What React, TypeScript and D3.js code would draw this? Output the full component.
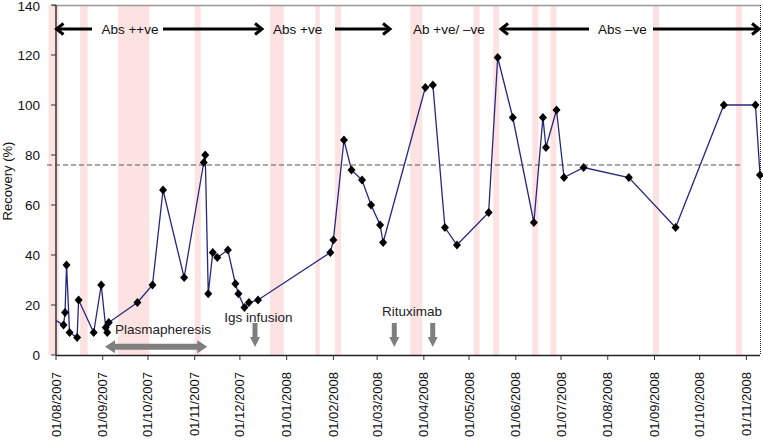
import React from "react";
import * as d3 from "d3";

// ---- data ----
const dates = [
  "2007-07-27", "2007-08-06", "2007-08-07", "2007-08-08", "2007-08-10", "2007-08-15", "2007-08-16",
  "2007-08-26", "2007-08-31", "2007-09-03", "2007-09-04", "2007-09-05", "2007-09-24", "2007-10-04",
  "2007-10-11", "2007-10-25", "2007-11-07", "2007-11-08", "2007-11-10", "2007-11-13", "2007-11-16",
  "2007-11-23", "2007-11-28", "2007-11-30", "2007-12-04", "2007-12-07", "2007-12-13", "2008-01-30",
  "2008-02-01", "2008-02-08", "2008-02-13", "2008-02-20", "2008-02-26", "2008-03-03", "2008-03-05",
  "2008-04-02", "2008-04-07", "2008-04-15", "2008-04-23", "2008-05-14", "2008-05-20", "2008-05-30",
  "2008-06-13", "2008-06-19", "2008-06-21", "2008-06-28", "2008-07-03", "2008-07-16", "2008-08-15",
  "2008-09-15", "2008-10-17", "2008-11-07", "2008-11-10",
];
const values = [
  15.5, 12, 17, 36, 9, 7, 22,
  9, 28, 11, 9, 13, 21, 28,
  66, 31, 77, 80, 24.5, 41, 39,
  42, 28.5, 24.5, 19, 21, 22, 41,
  46, 86, 74, 70, 60, 52, 45,
  107, 108, 51, 44, 57, 119, 95,
  53, 95, 83, 98, 71, 75, 71,
  51, 100, 100, 72,
];
const bandStarts = [
  "2007-07-27", "2007-08-17", "2007-09-11", "2007-11-01", "2007-12-21", "2008-01-20", "2008-02-02",
  "2008-03-23", "2008-05-04", "2008-05-17", "2008-06-12", "2008-06-24", "2008-08-31", "2008-10-25",
];
const bandEnds = [
  "2007-08-03", "2007-08-22", "2007-10-02", "2007-11-05", "2007-12-30", "2008-01-23", "2008-02-06",
  "2008-03-31", "2008-05-08", "2008-05-21", "2008-06-16", "2008-06-28", "2008-09-04", "2008-10-29",
];
const yTicks = [0, 20, 40, 60, 80, 100, 120, 140];
const referenceValue = 76;
const domainStart = "2007-08-01";
const domainEnd = "2008-11-10";
const periodLabels = ["Abs ++ve", "Abs +ve", "Ab +ve/ \u2013ve", "Abs \u2013ve"];
const treatmentLabels = ["Plasmapheresis", "Igs infusion", "Rituximab"];

const W = 763;
const H = 440;
const FONT = "'Liberation Sans', Arial, Helvetica, sans-serif";

export default function App() {
  const parse = d3.utcParse("%Y-%m-%d");
  const x = d3.scaleUtc().domain([parse(domainStart)!, parse(domainEnd)!]).range([56, 760]);
  const y = d3.scaleLinear().domain([0, 140]).range([355, 5]);
  const pts = dates.map((d, i) => ({ d: parse(d)!, v: values[i] }));
  const line = d3
    .line<{ d: Date; v: number }>()
    .x((p) => x(p.d))
    .y((p) => y(p.v));
  const monthTicks = d3.utcMonth.range(parse("2007-08-01")!, parse("2008-11-02")!);
  const fmt = d3.utcFormat("%d/%m/%Y");
  const diamond = "M0,-4.6L4,0L0,4.6L-4,0Z";

  const yTop = 29;
  const arrowL = (tip: number) => `M${tip + 7},${yTop - 5.5}L${tip},${yTop}L${tip + 7},${yTop + 5.5}`;
  const arrowR = (tip: number) => `M${tip - 7},${yTop - 5.5}L${tip},${yTop}L${tip - 7},${yTop + 5.5}`;
  const downArrow = (cx: number) =>
    `M${cx - 2.5},323L${cx + 2.5},323L${cx + 2.5},337L${cx + 5},337L${cx},347L${cx - 5},337L${cx - 2.5},337Z`;
  const yc = 346.7;
  const dbl = `M105,${yc}L115,${yc - 6.5}L115,${yc - 3}L197.3,${yc - 3}L197.3,${yc - 6.5}L207.3,${yc}L197.3,${yc + 6.5}L197.3,${yc + 3}L115,${yc + 3}L115,${yc + 6.5}Z`;

  return (
    <svg
      width={W}
      height={H}
      style={{ position: "absolute", left: 0, top: 0, background: "#fff" }}
      fontFamily={FONT}
    >
      <defs>
        <clipPath id="plotClip">
          <rect x={56} y={0} width={W - 56} height={360} />
        </clipPath>
      </defs>
      <rect width={W} height={H} fill="#fff" />
      {/* pink bands */}
      {bandStarts.map((s, i) => {
        const x0 = x(parse(s)!);
        const x1 = x(parse(bandEnds[i])!);
        return <rect key={i} x={x0} y={5} width={x1 - x0} height={350} fill="#fde2e2" />;
      })}
      {/* top border */}
      <line x1={52} x2={760} y1={5.5} y2={5.5} stroke="#999" strokeWidth={1.5} />
      {/* right border dotted */}
      <line x1={760.5} x2={760.5} y1={5} y2={355} stroke="#222" strokeWidth={1} strokeDasharray="1,1" />
      {/* reference dashed line */}
      <line
        x1={47}
        x2={743}
        y1={y(referenceValue)}
        y2={y(referenceValue)}
        stroke="#555"
        strokeWidth={1.2}
        strokeDasharray="5,3"
      />
      {/* y axis */}
      <line x1={56} x2={56} y1={5} y2={355} stroke="#333" strokeWidth={1.5} />
      {yTicks.map((t) => (
        <g key={t}>
          <line x1={51} x2={56} y1={y(t)} y2={y(t)} stroke="#333" strokeWidth={1} />
          <text x={40} y={Math.max(y(t) + 5, 11)} textAnchor="end" fontSize={13.5} fill="#111">
            {t}
          </text>
        </g>
      ))}
      <text transform="translate(12,181) rotate(-90)" textAnchor="middle" fontSize={13} fill="#111">
        Recovery (%)
      </text>
      {/* x axis */}
      <line x1={56} x2={760} y1={355.5} y2={355.5} stroke="#222" strokeWidth={1.5} />
      {monthTicks.map((m, i) => (
        <g key={i}>
          <line x1={x(m)} x2={x(m)} y1={355} y2={360} stroke="#333" strokeWidth={1} />
          <text
            transform={`translate(${x(m) + 4.5},372) rotate(-90)`}
            textAnchor="end"
            fontSize={13}
            fill="#111"
          >
            {fmt(m)}
          </text>
        </g>
      ))}
      {/* data */}
      <g clipPath="url(#plotClip)">
        <path d={line(pts) || ""} fill="none" stroke="#27277f" strokeWidth={1.3} />
        {pts.map((p, i) => (
          <path key={i} d={diamond} transform={`translate(${x(p.d)},${y(p.v)})`} fill="#000" />
        ))}
      </g>
      {/* period arrows */}
      <g stroke="#000" strokeWidth={3} fill="none">
        <path d={arrowL(56.5)} />
        <line x1={57} x2={92} y1={yTop} y2={yTop} />
        <line x1={163} x2={261} y1={yTop} y2={yTop} />
        <path d={arrowR(262)} />
        <line x1={335} x2={389} y1={yTop} y2={yTop} />
        <path d={arrowR(390)} />
        <path d={arrowL(501)} />
        <line x1={502} x2={589} y1={yTop} y2={yTop} />
        <line x1={653} x2={758} y1={yTop} y2={yTop} />
        <path d={arrowR(759)} />
      </g>
      <g fontSize={13.5} fill="#111">
        <text x={130} y={yTop + 5} textAnchor="middle">{periodLabels[0]}</text>
        <text x={273} y={yTop + 5}>{periodLabels[1]}</text>
        <text x={413} y={yTop + 5}>{periodLabels[2]}</text>
        <text x={598} y={yTop + 5}>{periodLabels[3]}</text>
      </g>
      {/* treatment annotations */}
      <g fill="#7f7f7f">
        <path d={dbl} />
        <path d={downArrow(255)} />
        <path d={downArrow(394.3)} />
        <path d={downArrow(432.7)} />
      </g>
      <g fontSize={13.5} fill="#222">
        <text x={115} y={334}>{treatmentLabels[0]}</text>
        <text x={258.3} y={322} textAnchor="middle">{treatmentLabels[1]}</text>
        <text x={412} y={316} textAnchor="middle">{treatmentLabels[2]}</text>
      </g>
    </svg>
  );
}
